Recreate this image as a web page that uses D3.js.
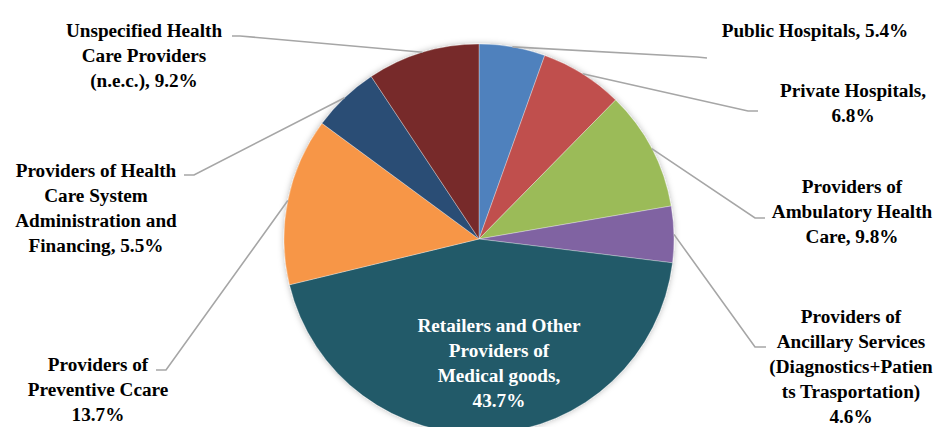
<!DOCTYPE html>
<html>
<head>
<meta charset="utf-8">
<script src="https://cdn.jsdelivr.net/npm/d3@7"></script>
<style>
  html, body { margin: 0; padding: 0; background: #fff; }
  svg { display: block; }
  text { font-family: "Liberation Serif", "Times New Roman", serif; font-weight: bold; }
</style>
</head>
<body>
<svg id="chart" width="936" height="427"></svg>
<script>
// Health expenditure by provider (share, %)
const categories = [
  "Public Hospitals",
  "Private Hospitals",
  "Providers of Ambulatory Health Care",
  "Providers of Ancillary Services (Diagnostics+Patients Trasportation)",
  "Retailers and Other Providers of Medical goods",
  "Providers of Preventive Ccare",
  "Providers of Health Care System Administration and Financing",
  "Unspecified Health Care Providers (n.e.c.)"
];
const shares = [5.4, 6.8, 9.8, 4.6, 43.7, 13.7, 5.5, 9.2];

// Label text, already wrapped as it is printed
const labelLines = [
  ["Public Hospitals, 5.4%"],
  ["Private Hospitals,", "6.8%"],
  ["Providers of", "Ambulatory Health", "Care, 9.8%"],
  ["Providers of", "Ancillary Services", "(Diagnostics+Patien", "ts Trasportation)", "4.6%"],
  ["Retailers and Other", "Providers of", "Medical goods,", "43.7%"],
  ["Providers of", "Preventive Ccare", "13.7%"],
  ["Providers of Health", "Care System", "Administration and", "Financing, 5.5%"],
  ["Unspecified Health", "Care Providers", "(n.e.c.), 9.2%"]
];

const colors = ["#4F81BD", "#C0504D", "#9BBB59", "#8064A2", "#235A69", "#F79646", "#2C4D75", "#772C2A"];

// Layout: label block anchor (centre x, first baseline) and leader elbow/end points
const layout = [
  { x: 815, y: 37,  elbow: [697, 57],  end: [707, 58] },
  { x: 853, y: 97,  elbow: [748, 111], end: [758, 111] },
  { x: 852, y: 193, elbow: [755, 218], end: [765, 218] },
  { x: 851, y: 323, elbow: [755, 347], end: [766, 347] },
  { x: 499, y: 332, inside: true },
  { x: 98,  y: 371, elbow: [166, 370], end: [156, 370] },
  { x: 96,  y: 177, elbow: [194, 175], end: [184, 175] },
  { x: 144, y: 37,  elbow: [240, 36],  end: [232, 36] }
];

const cx = 479, cy = 239, radius = 195, lineGap = 25;

const svg = d3.select("#chart");

const defs = svg.append("defs");
const shadow = defs.append("filter").attr("id", "soft-shadow")
  .attr("x", "-10%").attr("y", "-10%").attr("width", "120%").attr("height", "120%");
shadow.append("feDropShadow")
  .attr("dx", 0).attr("dy", 0).attr("stdDeviation", 3)
  .attr("flood-color", "#000").attr("flood-opacity", 0.28);

const pie = d3.pie().value(d => d).sort(null);
const arcs = pie(shares);
const arc = d3.arc().innerRadius(0).outerRadius(radius);

const g = svg.append("g").attr("transform", `translate(${cx},${cy})`);

// Leader lines (drawn under the pie so they start at its rim)
const leaderColor = "#A6A6A6";
svg.append("g").selectAll("polyline")
  .data(arcs.filter((d, i) => !layout[i].inside))
  .join("polyline")
  .attr("fill", "none")
  .attr("stroke", leaderColor)
  .attr("stroke-width", 1.6)
  .attr("points", d => {
    const L = layout[d.index];
    const a = (d.startAngle + d.endAngle) / 2;
    const sx = cx + Math.sin(a) * radius;
    const sy = cy - Math.cos(a) * radius;
    return [[sx, sy], L.elbow, L.end].map(p => p.join(",")).join(" ");
  });

// Slices
const slices = g.append("g").attr("filter", "url(#soft-shadow)");
slices.selectAll("path")
  .data(arcs)
  .join("path")
  .attr("d", arc)
  .attr("fill", (d, i) => colors[i])
  .attr("stroke", "rgba(255,255,255,0.45)")
  .attr("stroke-width", 0.7);

// Labels
const labels = svg.append("g");
labelLines.forEach((lines, i) => {
  const L = layout[i];
  const t = labels.append("text")
    .attr("text-anchor", "middle")
    .attr("font-size", 19.2)
    .attr("fill", L.inside ? "#FFFFFF" : "#000000");
  lines.forEach((ln, k) => {
    t.append("tspan").attr("x", L.x).attr("y", L.y + k * lineGap).text(ln);
  });
});
</script>
</body>
</html>
